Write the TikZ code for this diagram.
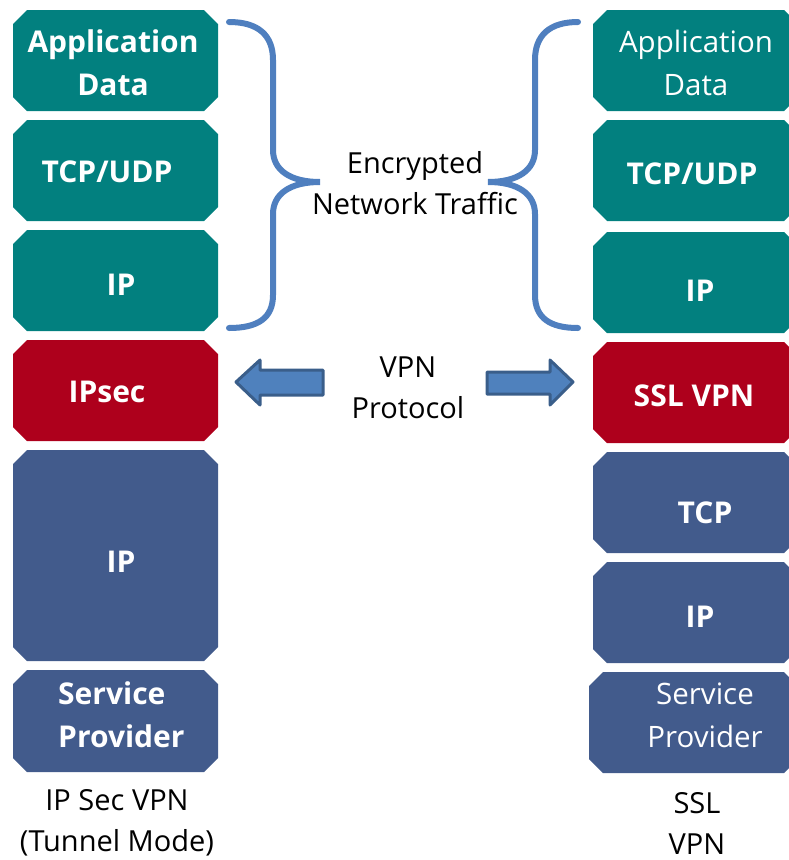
\documentclass[tikz,border=0pt]{standalone}
\usepackage{fontspec}
\setmainfont{Open Sans}
\definecolor{tealbox}{RGB}{2,128,127}
\definecolor{redbox}{RGB}{174,0,28}
\definecolor{bluebox}{RGB}{66,91,140}
\definecolor{bracecol}{RGB}{79,127,191}
\definecolor{arrowfill}{RGB}{79,129,189}
\definecolor{arrowedge}{RGB}{58,94,138}
% octagonal layer box: name, center x, center y, width, height, colour
\newcommand{\octbox}[6]{%
  \fill[#6] ({#2-#4/2+14},{#3-#5/2}) -- ({#2+#4/2-14},{#3-#5/2}) -- ({#2+#4/2},{#3-#5/2+14})
    -- ({#2+#4/2},{#3+#5/2-14}) -- ({#2+#4/2-14},{#3+#5/2}) -- ({#2-#4/2+14},{#3+#5/2})
    -- ({#2-#4/2},{#3+#5/2-14}) -- ({#2-#4/2},{#3-#5/2+14}) -- cycle;
  \node[inner sep=0pt, minimum width=#4pt, minimum height=#5pt] (#1) at (#2,#3) {};%
}
\tikzset{
  btxt/.style={text=white, font=\fontsize{30}{43}\selectfont\bfseries, align=center, inner sep=0pt},
  ntxt/.style={text=white, font=\fontsize{29.5}{43}\selectfont, align=center, inner sep=0pt},
  ktxt/.style={text=black, font=\fontsize{29}{41}\selectfont, align=center, inner sep=0pt},
  bracestyle/.style={draw=bracecol, line width=6pt, line cap=round},
  arrowstyle/.style={fill=arrowfill, draw=arrowedge, line width=3pt, line join=round}
}
\begin{document}
\begin{tikzpicture}[x=1pt,y=-1pt]
\useasboundingbox (0,0) rectangle (789,860);
\clip (0,0) rectangle (789,860);
% left column
\octbox{l1}{115.5}{60.5}{205}{101}{tealbox}
\octbox{l2}{115.5}{170.5}{205}{101}{tealbox}
\octbox{l3}{115.5}{280.5}{205}{101}{tealbox}
\octbox{l4}{115.5}{390.5}{205}{101}{redbox}
\octbox{l5}{115.5}{555.5}{205}{211}{bluebox}
\octbox{l6}{115.5}{721}{205}{102}{bluebox}
\node[btxt] (tl1) at (113,62.5) {Application\\Data};
\node[btxt] (tl2) at (107,172) {TCP/UDP};
\node[btxt] (tl3) at (121,285) {IP};
\node[btxt] (tl4) at (107,392) {IPsec};
\node[btxt] (tl5) at (121,562) {IP};
\node[btxt, align=left, anchor=west] (tl6) at (58,714.5) {Service\\Provider};
% right column
\octbox{r1}{695.5}{60.5}{205}{101}{tealbox}
\octbox{r2}{695.5}{170.5}{205}{101}{tealbox}
\octbox{r3}{695.5}{282.5}{205}{101}{tealbox}
\octbox{r4}{695.5}{392.5}{205}{101}{redbox}
\octbox{r5}{695.5}{502.5}{205}{101}{bluebox}
\octbox{r6}{695.5}{612.5}{205}{101}{bluebox}
\octbox{r7}{693.5}{722.5}{209}{101}{bluebox}
\node[ntxt] (tr1) at (696,62.5) {Application\\Data};
\node[btxt] (tr2) at (692,174) {TCP/UDP};
\node[btxt] (tr3) at (700,291) {IP};
\node[btxt] (tr4) at (694,396) {SSL VPN};
\node[btxt] (tr5) at (705,513) {TCP};
\node[btxt] (tr6) at (700,617) {IP};
\node[ntxt] (tr7) at (705,715.5) {Service\\Provider};
% middle texts
\node[ktxt] (enc) at (415,183.5) {Encrypted\\Network Traffic};
\node[ktxt] (vpn) at (408,388) {VPN\\Protocol};
\node[ktxt] (capl) at (117,823) {IP Sec VPN\\(Tunnel Mode)};
\node[ktxt] (capr) at (697,823) {SSL\\VPN};
% braces
\draw[bracestyle] (229,22) .. controls (258,22) and (273,35) .. (273,60) -- (273,150)
  .. controls (273,170) and (290,182) .. (320,182)
  .. controls (290,182) and (273,194) .. (273,214) -- (273,295)
  .. controls (273,318) and (258,328) .. (229,328);
\draw[bracestyle] (578,22) .. controls (550,22) and (535,35) .. (535,60) -- (535,150)
  .. controls (535,170) and (518,182) .. (488,182)
  .. controls (518,182) and (535,194) .. (535,214) -- (535,295)
  .. controls (535,318) and (550,328) .. (578,328);
% arrows
\draw[arrowstyle] (236,382) -- (260,360) -- (260,370) -- (323,370) -- (323,395) -- (260,395) -- (260,405) -- cycle;
\draw[arrowstyle] (573,382) -- (550,360) -- (550,372) -- (487,372) -- (487,394) -- (550,394) -- (550,405) -- cycle;
\end{tikzpicture}
\end{document}
